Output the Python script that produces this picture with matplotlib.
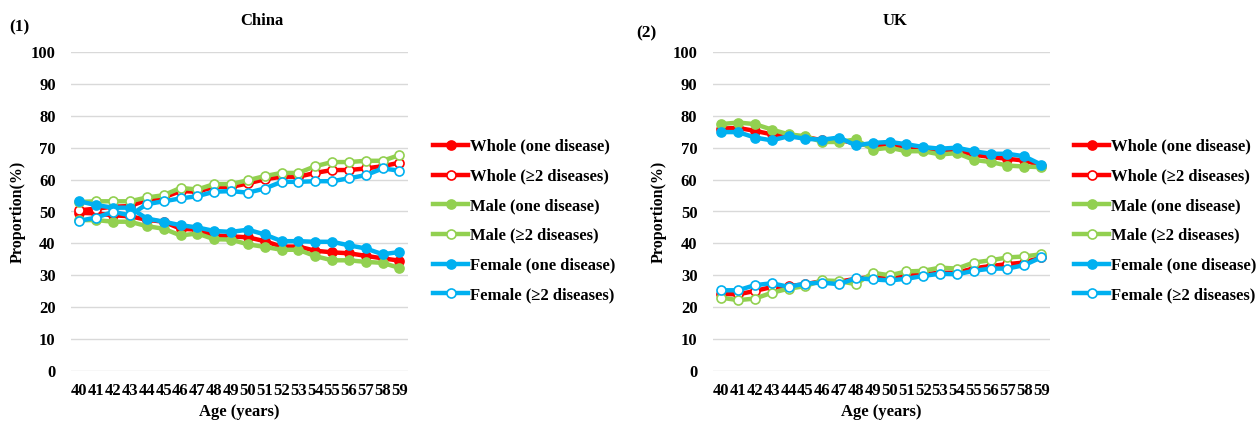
import numpy as np
import matplotlib.pyplot as plt
from matplotlib.lines import Line2D

plt.rcParams['font.family'] = ['Liberation Serif', 'DejaVu Serif']
plt.rcParams['font.weight'] = 'bold'

ages = list(range(40, 60))

# China
cn_whole_one = [49.6, 49.4, 48.8, 48.5, 47.4, 46.8, 44.6, 44.3, 42.5, 42.2,
                41.9, 40.7, 39.0, 39.0, 37.7, 37.2, 36.9, 36.1, 35.3, 34.6]
cn_whole_two = [50.4, 50.9, 51.5, 51.7, 53.6, 54.4, 56.4, 56.2, 57.7, 57.7,
                58.8, 60.1, 60.9, 60.9, 62.1, 63.0, 63.0, 63.5, 64.2, 65.3]
cn_male_one = [47.3, 47.3, 46.8, 46.8, 45.4, 44.6, 42.5, 43.1, 41.3, 41.2,
               39.7, 38.9, 38.0, 38.0, 36.0, 34.7, 34.7, 34.2, 33.9, 32.3]
cn_male_two = [53.0, 53.2, 53.2, 53.2, 54.4, 55.1, 57.4, 56.9, 58.6, 58.6,
               59.8, 61.1, 62.1, 62.1, 64.2, 65.5, 65.5, 65.9, 65.9, 67.7]
cn_female_one = [53.2, 52.0, 51.2, 51.2, 47.8, 46.8, 45.7, 45.0, 43.9, 43.6,
                 44.3, 42.8, 40.7, 40.7, 40.5, 40.5, 39.4, 38.4, 36.6, 37.3]
cn_female_two = [47.1, 48.1, 49.9, 48.8, 52.3, 53.2, 54.1, 54.8, 56.2, 56.4,
                 55.9, 57.2, 59.3, 59.3, 59.5, 59.5, 60.4, 61.4, 63.5, 62.8]

# UK
uk_whole_one = [76.0, 76.2, 75.3, 74.2, 73.9, 73.4, 72.3, 72.5, 71.3, 70.7,
                70.7, 70.0, 69.7, 69.2, 69.2, 67.8, 67.1, 66.5, 66.0, 64.4]
uk_whole_two = [24.2, 24.0, 25.1, 26.3, 26.6, 27.2, 28.2, 28.0, 28.9, 29.5,
                29.5, 30.0, 30.3, 30.8, 30.8, 32.2, 32.9, 33.5, 34.0, 35.6]
uk_male_one = [77.4, 77.9, 77.4, 75.7, 74.2, 73.6, 71.8, 71.8, 72.6, 69.4,
               70.0, 68.9, 68.9, 67.9, 68.3, 66.2, 65.5, 64.4, 64.1, 63.9]
uk_male_two = [23.0, 22.2, 22.7, 24.5, 25.8, 26.6, 28.4, 28.2, 27.2, 30.8,
               30.0, 31.2, 31.4, 32.4, 32.1, 34.0, 34.7, 35.6, 35.9, 36.6]
uk_female_one = [74.9, 74.9, 73.2, 72.3, 73.6, 72.8, 72.5, 73.2, 70.7, 71.5,
                 71.8, 71.1, 70.2, 69.7, 70.0, 68.9, 68.1, 68.1, 67.3, 64.7]
uk_female_two = [25.3, 25.3, 26.9, 27.5, 26.4, 27.4, 27.7, 27.2, 29.1, 28.7,
                 28.4, 28.9, 29.8, 30.5, 30.3, 31.4, 32.1, 32.1, 33.2, 35.6]

labels = ['Whole (one disease)', 'Whole (\u22652 diseases)',
          'Male (one disease)', 'Male (\u22652 diseases)',
          'Female (one disease)', 'Female (\u22652 diseases)']
colors = ['#FF0000', '#FF0000', '#92D050', '#92D050', '#00B0F0', '#00B0F0']
filled = [True, False, True, False, True, False]

panels = [
    ('China', '(1)', [cn_whole_one, cn_whole_two, cn_male_one, cn_male_two,
                      cn_female_one, cn_female_two]),
    ('UK', '(2)', [uk_whole_one, uk_whole_two, uk_male_one, uk_male_two,
                   uk_female_one, uk_female_two]),
]

fig = plt.figure(figsize=(12.57, 4.23), dpi=100)

ax_lefts = [0.0565, 0.567]
title_x = [0.208, 0.712]
tag_pos = [(0.007, 0.935), (0.506, 0.92)]
legend_x = [0.338, 0.848]

for i, (title, tag, series) in enumerate(panels):
    ax = fig.add_axes([ax_lefts[i], 0.123, 0.268, 0.754])
    x = np.arange(len(ages))
    for vals, c, f in zip(series, colors, filled):
        ax.plot(x, vals, color=c, lw=3.2, marker='o', ms=6.5,
                mfc=c if f else 'white', mec=c, mew=1.2)
    ax.set_xlim(-0.5, len(ages) - 0.5)
    ax.set_ylim(0, 100)
    ax.set_yticks(range(0, 101, 10))
    ax.set_xticks(x)
    ax.set_xticklabels([str(a) for a in ages], fontsize=12, fontweight='bold')
    ax.tick_params(axis='y', labelsize=12, length=0, pad=11)
    ax.tick_params(axis='x', length=0, pad=9)
    for lab in ax.get_yticklabels():
        lab.set_fontweight('bold')
    ax.grid(axis='y', color='#D9D9D9', lw=1)
    ax.set_axisbelow(True)
    for s in ax.spines.values():
        s.set_visible(False)
    ax.set_xlabel('Age (years)', fontsize=12, fontweight='bold', labelpad=3)
    ax.set_ylabel('Proportion(%)', fontsize=11.5, fontweight='bold', labelpad=4)
    fig.text(title_x[i], 0.95, title, fontsize=12, fontweight='bold',
             ha='center', va='center')
    fig.text(tag_pos[i][0], tag_pos[i][1], tag, fontsize=12.5,
             fontweight='bold', ha='left', va='center')

    handles = [Line2D([], [], color=c, lw=3.2, marker='o', ms=6.5,
                      mfc=c if f else 'white', mec=c, mew=1.2)
               for c, f in zip(colors, filled)]
    fig.legend(handles, labels, loc='center left',
               bbox_to_anchor=(legend_x[i], 0.4775), frameon=False,
               prop={'size': 12, 'weight': 'bold'}, handlelength=2.1,
               handletextpad=0.1, labelspacing=0.82, borderpad=0)

fig.savefig('out.png', dpi=100)
